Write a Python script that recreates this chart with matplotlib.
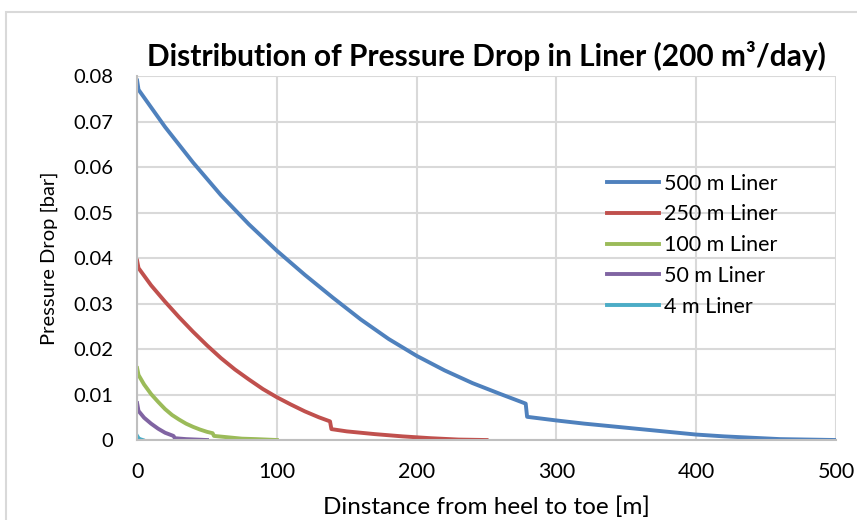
# Pressure drop along the liner for several liner lengths at 200 m3/day
import matplotlib.pyplot as plt
from matplotlib.patches import Rectangle

plt.rcParams['font.family'] = ['Lato', 'DejaVu Sans']

# distance from heel [m] and pressure drop [bar] for each liner length
x500 = [0, 1, 20, 40, 60, 80, 100, 120, 140, 160, 180, 200, 220, 240, 260, 278,
        279, 300, 320, 340, 360, 380, 400, 420, 440, 460, 480, 500]
dp500 = [0.0790, 0.0770, 0.0688, 0.0610, 0.0538, 0.0474, 0.0416, 0.0363, 0.0313,
         0.0265, 0.0222, 0.0185, 0.0153, 0.0125, 0.0101, 0.0080,
         0.0051, 0.0043, 0.0036, 0.0030, 0.0024, 0.0018, 0.0012, 0.0008, 0.0005,
         0.0002, 0.0001, 0.0]

x250 = [0, 1, 10, 20, 30, 40, 50, 60, 70, 80, 90, 100, 110, 120, 130, 138,
        139, 150, 170, 190, 210, 230, 250]
dp250 = [0.0394, 0.0378, 0.0340, 0.0304, 0.0270, 0.0238, 0.0208, 0.0180, 0.0155,
         0.0133, 0.0112, 0.0094, 0.0078, 0.0063, 0.0050, 0.0041,
         0.0024, 0.0019, 0.0013, 0.0008, 0.0004, 0.0001, 0.0]

x100 = [0, 1, 5, 10, 15, 20, 25, 30, 35, 40, 45, 50, 54, 55, 65, 75, 85, 100]
dp100 = [0.0158, 0.0143, 0.0122, 0.0101, 0.0084, 0.0068, 0.0055, 0.0045, 0.0036,
         0.0029, 0.0023, 0.0018, 0.0015, 0.0009, 0.0006, 0.0003, 0.0002, 0.0]

x50 = [0, 1, 5, 10, 15, 20, 26, 27, 35, 50]
dp50 = [0.0081, 0.0064, 0.0049, 0.0036, 0.0025, 0.0016, 0.0009, 0.0004, 0.0002, 0.0]

x4 = [0, 1, 2, 4]
dp4 = [0.0009, 0.0004, 0.0002, 0.0]

fig = plt.figure(figsize=(8.57, 5.2), dpi=100)
ax = fig.add_axes([0.160, 0.1538, 0.8155, 0.70])

# light frame around the chart area
fig.patches.append(Rectangle((0.007, -0.05), 1.1, 1.027, transform=fig.transFigure,
                             fill=False, edgecolor='#d9d9d9', linewidth=1.5))

lw = 2.8
ax.plot(x500, dp500, color='#4F81BD', lw=lw, label='500 m Liner')
ax.plot(x250, dp250, color='#C0504D', lw=lw, label='250 m Liner')
ax.plot(x100, dp100, color='#9BBB59', lw=lw, label='100 m Liner')
ax.plot(x50, dp50, color='#8064A2', lw=lw, label='50 m Liner')
ax.plot(x4, dp4, color='#4BACC6', lw=lw, label='4 m Liner')

ax.set_xlim(0, 500)
ax.set_ylim(0, 0.08)
ax.set_xticks([0, 100, 200, 300, 400, 500])
ax.set_yticks([0, 0.01, 0.02, 0.03, 0.04, 0.05, 0.06, 0.07, 0.08])
ax.set_yticklabels(['0', '0.01', '0.02', '0.03', '0.04', '0.05', '0.06', '0.07', '0.08'])
ax.tick_params(axis='x', length=0, labelsize=15.5, pad=16)
ax.tick_params(axis='y', length=0, labelsize=14.5, pad=17)
ax.grid(True, color='#d9d9d9', linewidth=1.5)
ax.set_axisbelow(True)
for side in ['top', 'right']:
    ax.spines[side].set_visible(False)
for side in ['left', 'bottom']:
    ax.spines[side].set_color('#bfbfbf')
    ax.spines[side].set_linewidth(1.5)

ax.set_title('Distribution of Pressure Drop in Liner (200 m\u00b3/day)',
             fontsize=21.5, fontweight='bold', pad=7)
ax.set_xlabel('Dinstance from heel to toe [m]', fontsize=17.5, labelpad=10)
ax.set_ylabel('Pressure Drop [bar]', fontsize=14.5, labelpad=11)

ax.legend(loc='upper left', bbox_to_anchor=(0.645, 0.785), frameon=False,
          fontsize=15.5, handlelength=2.4, handletextpad=0.25, labelspacing=0.5)

plt.savefig('out.png', dpi=100)
